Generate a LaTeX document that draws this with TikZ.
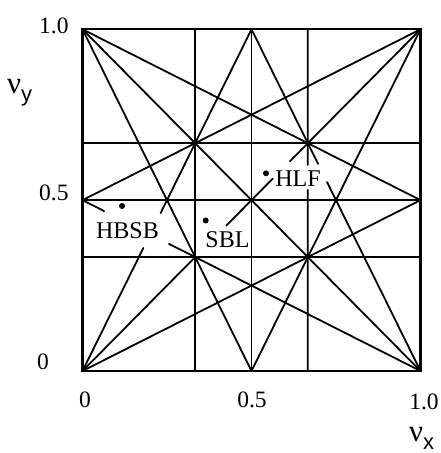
\documentclass[tikz,border=0pt]{standalone}
\usepackage{fontspec}
\setmainfont{Liberation Serif}
\setsansfont{Liberation Sans}
\usetikzlibrary{calc}
\begin{document}
\begin{tikzpicture}[x=1pt,y=1pt,
  ln/.style={line width=1.8pt, line cap=round},
  frame/.style={line width=2.2pt},
  lbl/.style={font=\fontsize{24}{24}\selectfont, inner sep=0pt},
  tick/.style={font=\fontsize{23.5}{23.5}\selectfont, inner sep=0pt},
  axt/.style={font=\fontsize{31}{31}\selectfont, inner sep=0pt},
  dotm/.style={circle, fill=black, inner sep=0pt, minimum size=6pt}]
\useasboundingbox (0,0) rectangle (441,453);
\begin{scope}[shift={(82.5,82)}, x=338pt, y=341.7pt]
  \coordinate (O) at (0,0);
  \coordinate (D) at (1,1);
  \coordinate (TL) at (0,1);
  \coordinate (BR) at (1,0);
  \coordinate (L2) at (0,0.5);
  \coordinate (R2) at (1,0.5);
  \coordinate (T2) at (0.5,1);
  \coordinate (B2) at (0.5,0);
  \coordinate (Xa0) at (1/3,0); \coordinate (Xa1) at (1/3,1);
  \coordinate (Xc0) at (2/3,0); \coordinate (Xc1) at (2/3,1);
  \coordinate (Ya0) at (0,1/3); \coordinate (Ya1) at (1,1/3);
  \coordinate (Yb0) at (0,1/2); \coordinate (Yb1) at (1,1/2);
  \coordinate (Yc0) at (0,2/3); \coordinate (Yc1) at (1,2/3);
  \coordinate (P1) at (1/3,1/3);
  % grid lines
  \draw[ln] (Xa0) -- (Xa1);
  \draw[ln] (B2) -- (T2);
  \draw[ln] (Xc0) -- ($(Xc0)!0.53!(Xc1)$) ($(Xc0)!0.603!(Xc1)$) -- (Xc1);
  \draw[ln] (Ya0) -- (Ya1);
  \draw[ln] (Yb0) -- (Yb1);
  \draw[ln] (Yc0) -- (Yc1);
  % diagonals
  \draw[ln] (O) -- (P1) ($(O)!0.425!(D)$) -- ($(O)!0.563!(D)$) ($(O)!0.614!(D)$) -- (D);
  \draw[ln] (TL) -- (BR);
  % third order lines
  \draw[ln] (TL) -- (B2);
  \draw[ln] (T2) -- ($(T2)!0.394!(BR)$) ($(T2)!0.447!(BR)$) -- (BR);
  \draw[ln] (O) -- ($(O)!0.36!(T2)$) ($(O)!0.462!(T2)$) -- (T2);
  \draw[ln] (B2) -- (D);
  \draw[ln] (L2) -- ($(L2)!0.064!(BR)$) ($(L2)!0.256!(BR)$) -- (BR);
  \draw[ln] (TL) -- (R2);
  \draw[ln] (O) -- (R2);
  \draw[ln] (L2) -- (D);
  % frame
  \draw[frame] (O) rectangle (D);
\end{scope}
% labels
\node[lbl] (hbsb) at (127.5,222) {HBSB};
\node[lbl] (sbl) at (227.5,213) {SBL};
\node[lbl] (hlf) at (298,274) {HLF};
\node[dotm] (dh) at (122,247) {};
\node[dotm] (ds) at (205.7,232.5) {};
\node[dotm] (df) at (266,279.7) {};
% ticks
\node[tick, anchor=west] (y10) at (39,427) {1.0};
\node[tick, anchor=west] (y05) at (39,260) {0.5};
\node[tick, anchor=west] (y00) at (37,91) {0};
\node[tick] (x00) at (85,53) {0};
\node[tick] (x05) at (252,53) {0.5};
\node[tick] (x10) at (424,51) {1.0};
% axis titles
\node[axt, anchor=base west] (ny) at (7,359) {ν\raisebox{-8pt}{\fontsize{22}{22}\sffamily y}};
\node[axt, anchor=base west] (nx) at (409,12) {ν\raisebox{-8pt}{\fontsize{22}{22}\sffamily x}};
\end{tikzpicture}
\end{document}
